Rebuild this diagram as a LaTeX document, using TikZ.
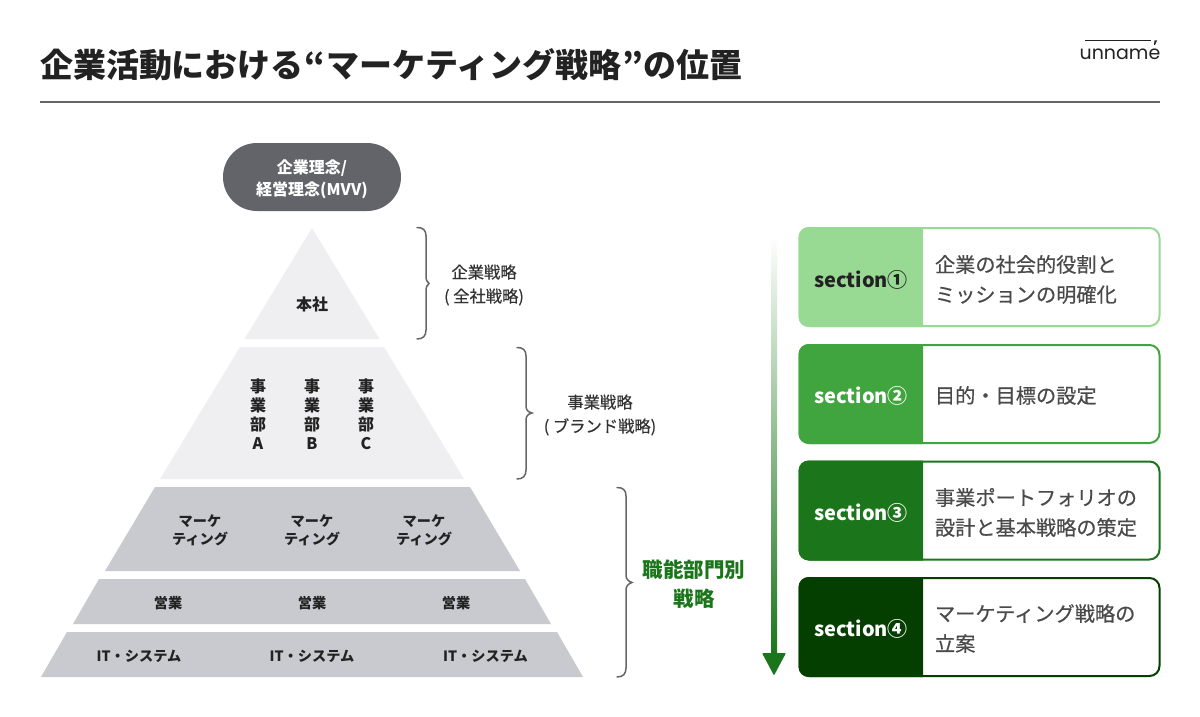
\documentclass[tikz,border=0pt]{standalone}
\usepackage{fontspec}
\setmainfont{Noto Sans CJK JP}
\newfontfamily\lightb[FakeBold=0.5]{Noto Sans CJK JP}
\setsansfont{Poppins}
\definecolor{ink}{HTML}{222222}
\definecolor{lab}{HTML}{333333}
\definecolor{body}{HTML}{4A4A4A}
\definecolor{rulec}{HTML}{666666}
\definecolor{lightp}{HTML}{EFEFF1}
\definecolor{midp}{HTML}{C9CAD0}
\definecolor{darkp}{HTML}{63646A}
\definecolor{sa}{HTML}{98DA94}
\definecolor{sb}{HTML}{41A53F}
\definecolor{sc}{HTML}{1B761B}
\definecolor{sd}{HTML}{053F00}
\tikzset{
  txt/.style={inner sep=0pt,outer sep=0pt,align=center},
  t14/.style={txt,text=ink,font=\fontsize{14.2}{18}\selectfont\bfseries},
  tdept/.style={txt,text=ink,font=\fontsize{16}{19}\selectfont\bfseries},
  tside/.style={txt,text=lab,font=\fontsize{16.3}{24}\selectfont\lightb},
  sect/.style={txt,font=\fontsize{20}{24}\selectfont\bfseries},
  tbody/.style={txt,text=body,anchor=west,align=left,font=\fontsize{20.2}{30}\selectfont\lightb},
  lightseg/.style={fill=lightp},
  midseg/.style={fill=midp},
  bracec/.style={draw=rulec,line width=1.5pt,line cap=round},
  secbox/.style={rectangle,rounded corners=10pt,line width=2pt,fill=white,minimum width=360pt,minimum height=98pt,inner sep=0pt},
}
\begin{document}
\begin{tikzpicture}[x=1pt,y=-1pt]
\useasboundingbox (0,0) rectangle (1200,717);
\fill[white] (0,0) rectangle (1200,717);
% header
\node[txt,anchor=west,text=ink,font=\fontsize{33}{38}\selectfont\bfseries] (title) at (40,65) {企業活動における\kern1pt“\kern1pt マーケティング戦略\kern1pt”\kern1pt の位置};
\coordinate (ruleL) at (40,102);
\coordinate (ruleR) at (1160,102);
\draw[rulec,line width=1.5pt] (ruleL) -- (ruleR);
% logo
\node[txt,text=ink,font=\sffamily\fontsize{19}{24}\selectfont] (logo) at (1120,54) {unname};
\coordinate (logoL) at (1085,41);
\coordinate (logoR) at (1151,41);
\draw[ink,line width=1pt] (logoL) -- (logoR);
\fill[ink] (1154.5,40.5) -- (1157,40.5) -- (1155,45) -- (1154,45) -- cycle;
% pill
\node[rectangle,rounded corners=33.9pt,fill=darkp,minimum width=178pt,minimum height=68pt,inner sep=0pt] (pill) at (312,177) {};
\node[txt,text=white,font=\fontsize{16}{22}\selectfont\bfseries] (pilltext) at (312,179) {企業理念/\\経営理念(MVV)};
% pyramid
\fill[lightseg] (312,228) -- (379.5,339) -- (244.5,339) -- cycle;
\fill[lightseg] (240,347) -- (384,347) -- (464,479) -- (160,479) -- cycle;
\fill[midseg] (155,487) -- (470,487) -- (520,571) -- (105,571) -- cycle;
\fill[midseg] (99,579) -- (525,579) -- (551,624) -- (73,624) -- cycle;
\fill[midseg] (67,632) -- (557,632) -- (583,677) -- (41,677) -- cycle;
\node[txt,text=ink,font=\fontsize{16}{20}\selectfont\bfseries] (honsha) at (312,304) {本社};
\node[tdept] (da) at (258,414) {事\\業\\部\\A};
\node[tdept] (db) at (312,414) {事\\業\\部\\B};
\node[tdept] (dc) at (366,414) {事\\業\\部\\C};
\node[t14] (ma) at (200,530) {マーケ\\ティング};
\node[t14] (mb) at (312,530) {マーケ\\ティング};
\node[t14] (mc) at (424,530) {マーケ\\ティング};
\node[t14] (ea) at (168,603) {営業};
\node[t14] (eb) at (312,603) {営業};
\node[t14] (ec) at (456,603) {営業};
\node[t14] (ia) at (139,656) {IT・システム};
\node[t14] (ib) at (312,656) {IT・システム};
\node[t14] (ic) at (485.5,656) {IT・システム};
% braces
\draw[bracec] (417,227.5) .. controls (423,227.5) and (426,230) .. (426,236) -- (426,276) .. controls (426,280) and (427,282) .. (429,283.5) .. controls (427,285) and (426,287) .. (426,291) -- (426,330) .. controls (426,336) and (423,339) .. (417,339);
\draw[bracec] (517,347.5) .. controls (523,347.5) and (526,350) .. (526,356) -- (526,406) .. controls (526,410) and (528,412) .. (532,413) .. controls (528,414) and (526,416) .. (526,420) -- (526,470) .. controls (526,476) and (523,479) .. (517,479);
\draw[bracec] (617,487.5) .. controls (623,487.5) and (626,490) .. (626,496) -- (626,575) .. controls (626,579) and (628,581) .. (632,582.5) .. controls (628,584) and (626,586) .. (626,590) -- (626,668) .. controls (626,674) and (623,677) .. (617,677);
\node[tside] (s1) at (484,285) {企業戦略\\( 全社戦略)};
\node[tside] (s2) at (600,415) {事業戦略\\( ブランド戦略)};
\node[txt,text=sc,font=\fontsize{20.5}{29}\selectfont\bfseries] (s3) at (694,584) {職能部門別\\戦略};
% arrow
\shade[top color=white,bottom color=sc] (771,235) rectangle (777,655);
\fill[sc,rounded corners=1pt] (762,653) -- (786,653) -- (774,675.5) -- cycle;
% section boxes
\node[secbox,draw=sa] (b1) at (979.5,277) {};
\fill[sa] (923,227) [rounded corners=10pt] -- (798.5,227) -- (798.5,327) [sharp corners] -- (923,327) -- cycle;
\node[sect,text=ink] (l1) at (861,280) {section①};
\node[tbody] (t1) at (935,279.5) {企業の社会的役割と\\ミッションの明確化};
\node[secbox,draw=sb] (b2) at (979.5,394) {};
\fill[sb] (923,344) [rounded corners=10pt] -- (798.5,344) -- (798.5,444) [sharp corners] -- (923,444) -- cycle;
\node[sect,text=white] (l2) at (861,396) {section②};
\node[tbody] (t2) at (935,395.5) {目的・目標の設定};
\node[secbox,draw=sc] (b3) at (979.5,510.5) {};
\fill[sc] (923,460.5) [rounded corners=10pt] -- (798.5,460.5) -- (798.5,560.5) [sharp corners] -- (923,560.5) -- cycle;
\node[sect,text=white] (l3) at (861,513) {section③};
\node[tbody] (t3) at (935,512.5) {事業ポートフォリオの\\設計と基本戦略の策定};
\node[secbox,draw=sd] (b4) at (979.5,627) {};
\fill[sd] (923,577) [rounded corners=10pt] -- (798.5,577) -- (798.5,677) [sharp corners] -- (923,677) -- cycle;
\node[sect,text=white] (l4) at (861,629) {section④};
\node[tbody] (t4) at (935,628.5) {マーケティング戦略の\\立案};
\end{tikzpicture}
\end{document}
